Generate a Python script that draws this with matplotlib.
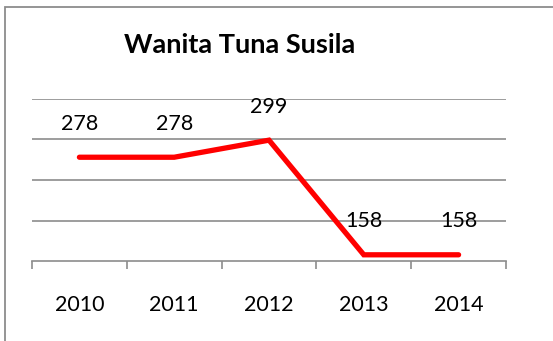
import matplotlib.pyplot as plt
from matplotlib.patches import Rectangle
from matplotlib.ticker import FixedLocator

years = ["2010", "2011", "2012", "2013", "2014"]
counts = [278, 278, 299, 158, 158]

plt.rcParams['font.family'] = ['Lato', 'DejaVu Sans']

fig = plt.figure(figsize=(5.53, 3.41), dpi=100)

# chart border (only left and top edges fall inside the canvas)
fig.patches.append(Rectangle((4.5 / 553, -0.1), 1.2, (334 / 341) + 0.1,
                             transform=fig.transFigure, fill=False,
                             edgecolor="#8c8c8c", linewidth=1.3))

ax = fig.add_axes([32 / 553, 79.7 / 341, 474 / 553, 162.6 / 341])
x = list(range(len(years)))
ax.plot(x, counts, color="#ff0000", linewidth=3.8, solid_capstyle="round",
        solid_joinstyle="miter")

for xi, v in zip(x, counts):
    ax.annotate(str(v), (xi, v), xytext=(0, 24), textcoords="offset points",
                ha="center", va="center", fontsize=15.5, color="black")

ax.set_xlim(-0.5, len(years) - 0.5)
ax.set_ylim(150, 350)
ax.set_yticks([200, 250, 300, 350])
ax.yaxis.grid(True, color="#8c8c8c", linewidth=1.2)
ax.set_axisbelow(True)
ax.tick_params(axis="y", left=False, labelleft=False)

ax.set_xticks(x)
ax.set_xticklabels(years, fontsize=15.5)
ax.xaxis.set_minor_locator(FixedLocator([i - 0.5 for i in range(len(years) + 1)]))
ax.tick_params(axis="x", which="major", length=0, pad=24)
ax.tick_params(axis="x", which="minor", length=6, width=1.2, color="#8c8c8c")

for side in ["top", "right", "left"]:
    ax.spines[side].set_visible(False)
ax.spines["bottom"].set_color("#8c8c8c")
ax.spines["bottom"].set_linewidth(1.2)

fig.text(240 / 553, 1 - 45 / 341, "Wanita Tuna Susila", ha="center", va="center",
         fontsize=19.5, fontweight="bold")

fig.savefig("out.png", dpi=100)
